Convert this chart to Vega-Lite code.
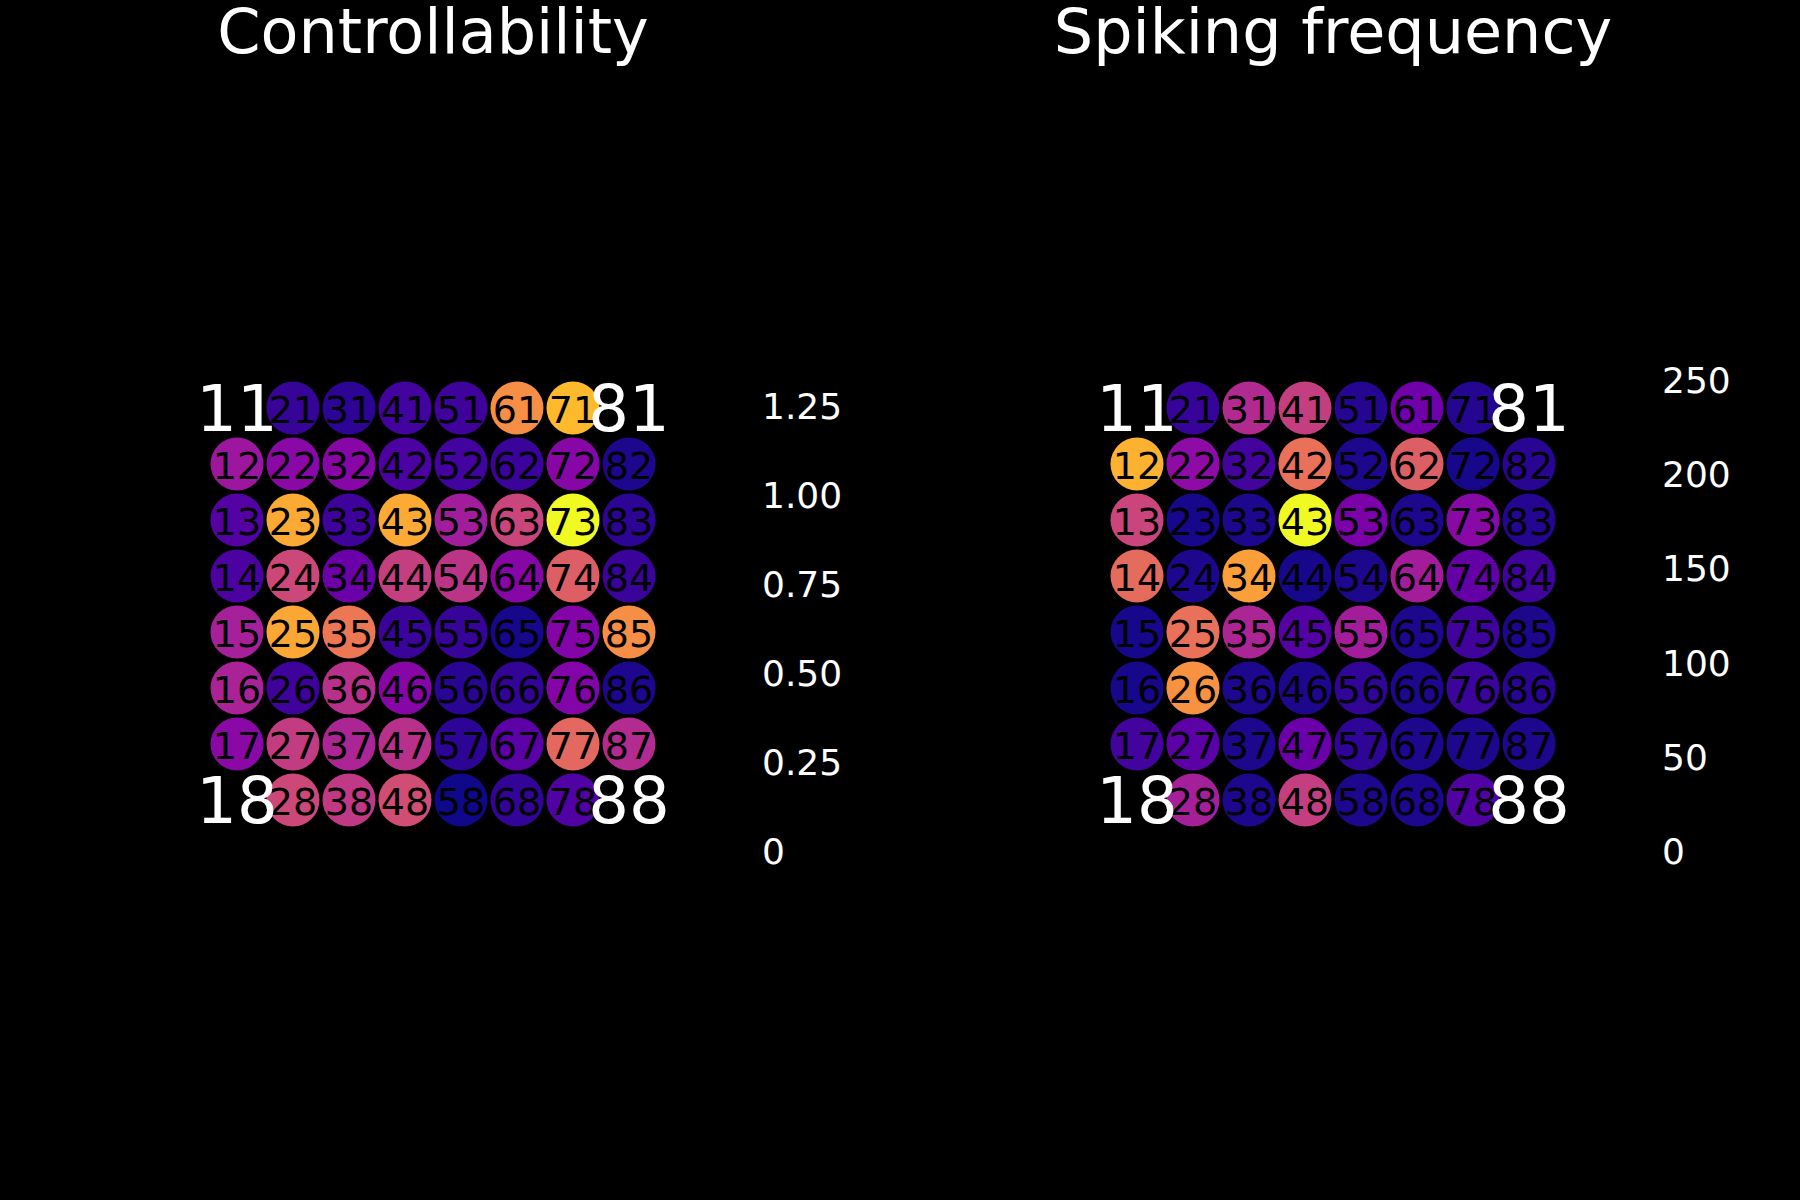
{
  "$schema": "https://vega.github.io/schema/vega-lite/v6.json",
  "background": "black",
  "autosize": {"type": "pad"},
  "padding": {"left": 196, "top": 3, "right": 70, "bottom": 328},
  "datasets": {
    "ctrl": [
      {"ch": "21", "col": 2, "row": 1, "v": 0.093},
      {"ch": "31", "col": 3, "row": 1, "v": 0.066},
      {"ch": "41", "col": 4, "row": 1, "v": 0.133},
      {"ch": "51", "col": 5, "row": 1, "v": 0.12},
      {"ch": "61", "col": 6, "row": 1, "v": 0.97},
      {"ch": "71", "col": 7, "row": 1, "v": 1.13},
      {"ch": "12", "col": 1, "row": 2, "v": 0.439},
      {"ch": "22", "col": 2, "row": 2, "v": 0.372},
      {"ch": "32", "col": 3, "row": 2, "v": 0.359},
      {"ch": "42", "col": 4, "row": 2, "v": 0.159},
      {"ch": "52", "col": 5, "row": 2, "v": 0.133},
      {"ch": "62", "col": 6, "row": 2, "v": 0.106},
      {"ch": "72", "col": 7, "row": 2, "v": 0.359},
      {"ch": "82", "col": 8, "row": 2, "v": 0.027},
      {"ch": "13", "col": 1, "row": 3, "v": 0.186},
      {"ch": "23", "col": 2, "row": 3, "v": 1.076},
      {"ch": "33", "col": 3, "row": 3, "v": 0.12},
      {"ch": "43", "col": 4, "row": 3, "v": 1.076},
      {"ch": "53", "col": 5, "row": 3, "v": 0.465},
      {"ch": "63", "col": 6, "row": 3, "v": 0.651},
      {"ch": "73", "col": 7, "row": 3, "v": 1.329},
      {"ch": "83", "col": 8, "row": 3, "v": 0.066},
      {"ch": "14", "col": 1, "row": 4, "v": 0.159},
      {"ch": "24", "col": 2, "row": 4, "v": 0.665},
      {"ch": "34", "col": 3, "row": 4, "v": 0.266},
      {"ch": "44", "col": 4, "row": 4, "v": 0.625},
      {"ch": "54", "col": 5, "row": 4, "v": 0.571},
      {"ch": "64", "col": 6, "row": 4, "v": 0.359},
      {"ch": "74", "col": 7, "row": 4, "v": 0.771},
      {"ch": "84", "col": 8, "row": 4, "v": 0.106},
      {"ch": "15", "col": 1, "row": 5, "v": 0.478},
      {"ch": "25", "col": 2, "row": 5, "v": 1.063},
      {"ch": "35", "col": 3, "row": 5, "v": 0.877},
      {"ch": "45", "col": 4, "row": 5, "v": 0.106},
      {"ch": "55", "col": 5, "row": 5, "v": 0.093},
      {"ch": "65", "col": 6, "row": 5, "v": 0.013},
      {"ch": "75", "col": 7, "row": 5, "v": 0.346},
      {"ch": "85", "col": 8, "row": 5, "v": 0.97},
      {"ch": "16", "col": 1, "row": 6, "v": 0.492},
      {"ch": "26", "col": 2, "row": 6, "v": 0.12},
      {"ch": "36", "col": 3, "row": 6, "v": 0.558},
      {"ch": "46", "col": 4, "row": 6, "v": 0.359},
      {"ch": "56", "col": 5, "row": 6, "v": 0.053},
      {"ch": "66", "col": 6, "row": 6, "v": 0.08},
      {"ch": "76", "col": 7, "row": 6, "v": 0.346},
      {"ch": "86", "col": 8, "row": 6, "v": 0.027},
      {"ch": "17", "col": 1, "row": 7, "v": 0.372},
      {"ch": "27", "col": 2, "row": 7, "v": 0.611},
      {"ch": "37", "col": 3, "row": 7, "v": 0.505},
      {"ch": "47", "col": 4, "row": 7, "v": 0.558},
      {"ch": "57", "col": 5, "row": 7, "v": 0.066},
      {"ch": "67", "col": 6, "row": 7, "v": 0.213},
      {"ch": "77", "col": 7, "row": 7, "v": 0.811},
      {"ch": "87", "col": 8, "row": 7, "v": 0.532},
      {"ch": "28", "col": 2, "row": 8, "v": 0.665},
      {"ch": "38", "col": 3, "row": 8, "v": 0.598},
      {"ch": "48", "col": 4, "row": 8, "v": 0.691},
      {"ch": "58", "col": 5, "row": 8, "v": 0.0},
      {"ch": "68", "col": 6, "row": 8, "v": 0.08},
      {"ch": "78", "col": 7, "row": 8, "v": 0.173}
    ],
    "spike": [
      {"ch": "21", "col": 2, "row": 1, "v": 18},
      {"ch": "31", "col": 3, "row": 1, "v": 100},
      {"ch": "41", "col": 4, "row": 1, "v": 118},
      {"ch": "51", "col": 5, "row": 1, "v": 8},
      {"ch": "61", "col": 6, "row": 1, "v": 53},
      {"ch": "71", "col": 7, "row": 1, "v": 8},
      {"ch": "12", "col": 1, "row": 2, "v": 208},
      {"ch": "22", "col": 2, "row": 2, "v": 73},
      {"ch": "32", "col": 3, "row": 2, "v": 25},
      {"ch": "42", "col": 4, "row": 2, "v": 161},
      {"ch": "52", "col": 5, "row": 2, "v": 5},
      {"ch": "62", "col": 6, "row": 2, "v": 146},
      {"ch": "72", "col": 7, "row": 2, "v": 3},
      {"ch": "82", "col": 8, "row": 2, "v": 10},
      {"ch": "13", "col": 1, "row": 3, "v": 123},
      {"ch": "23", "col": 2, "row": 3, "v": 3},
      {"ch": "33", "col": 3, "row": 3, "v": 5},
      {"ch": "43", "col": 4, "row": 3, "v": 251},
      {"ch": "53", "col": 5, "row": 3, "v": 60},
      {"ch": "63", "col": 6, "row": 3, "v": 5},
      {"ch": "73", "col": 7, "row": 3, "v": 70},
      {"ch": "83", "col": 8, "row": 3, "v": 8},
      {"ch": "14", "col": 1, "row": 4, "v": 156},
      {"ch": "24", "col": 2, "row": 4, "v": 5},
      {"ch": "34", "col": 3, "row": 4, "v": 196},
      {"ch": "44", "col": 4, "row": 4, "v": 3},
      {"ch": "54", "col": 5, "row": 4, "v": 5},
      {"ch": "64", "col": 6, "row": 4, "v": 88},
      {"ch": "74", "col": 7, "row": 4, "v": 45},
      {"ch": "84", "col": 8, "row": 4, "v": 23},
      {"ch": "15", "col": 1, "row": 5, "v": 3},
      {"ch": "25", "col": 2, "row": 5, "v": 161},
      {"ch": "35", "col": 3, "row": 5, "v": 95},
      {"ch": "45", "col": 4, "row": 5, "v": 35},
      {"ch": "55", "col": 5, "row": 5, "v": 88},
      {"ch": "65", "col": 6, "row": 5, "v": 5},
      {"ch": "75", "col": 7, "row": 5, "v": 23},
      {"ch": "85", "col": 8, "row": 5, "v": 5},
      {"ch": "16", "col": 1, "row": 6, "v": 3},
      {"ch": "26", "col": 2, "row": 6, "v": 186},
      {"ch": "36", "col": 3, "row": 6, "v": 5},
      {"ch": "46", "col": 4, "row": 6, "v": 5},
      {"ch": "56", "col": 5, "row": 6, "v": 15},
      {"ch": "66", "col": 6, "row": 6, "v": 5},
      {"ch": "76", "col": 7, "row": 6, "v": 20},
      {"ch": "86", "col": 8, "row": 6, "v": 10},
      {"ch": "17", "col": 1, "row": 7, "v": 25},
      {"ch": "27", "col": 2, "row": 7, "v": 40},
      {"ch": "37", "col": 3, "row": 7, "v": 5},
      {"ch": "47", "col": 4, "row": 7, "v": 50},
      {"ch": "57", "col": 5, "row": 7, "v": 13},
      {"ch": "67", "col": 6, "row": 7, "v": 5},
      {"ch": "77", "col": 7, "row": 7, "v": 5},
      {"ch": "87", "col": 8, "row": 7, "v": 5},
      {"ch": "28", "col": 2, "row": 8, "v": 90},
      {"ch": "38", "col": 3, "row": 8, "v": 5},
      {"ch": "48", "col": 4, "row": 8, "v": 118},
      {"ch": "58", "col": 5, "row": 8, "v": 5},
      {"ch": "68", "col": 6, "row": 8, "v": 5},
      {"ch": "78", "col": 7, "row": 8, "v": 33}
    ],
    "corners": [
      {"ch": "11", "col": 1, "row": 1},
      {"ch": "81", "col": 8, "row": 1},
      {"ch": "18", "col": 1, "row": 8},
      {"ch": "88", "col": 8, "row": 8}
    ]
  },
  "config": {
    "view": {"stroke": null},
    "font": "DejaVu Sans",
    "title": {
      "font": "DejaVu Sans",
      "fontSize": 62,
      "fontWeight": "normal",
      "color": "white",
      "baseline": "alphabetic",
      "offset": 314,
      "frame": "group",
      "anchor": "middle"
    },
    "legend": {
      "orient": "none",
      "legendX": 527,
      "legendY": 0,
      "direction": "vertical",
      "gradientLength": 475,
      "gradientThickness": 24,
      "gradientOpacity": 0,
      "gradientStrokeWidth": 0,
      "labelFont": "DejaVu Sans",
      "labelFontSize": 36,
      "labelColor": "white",
      "labelOffset": 12,
      "labelBaseline": "middle",
      "labelOverlap": false,
      "padding": 0
    }
  },
  "hconcat": [
    {
      "width": 448,
      "height": 448,
      "title": "Controllability",
      "layer": [
        {
          "data": {"name": "ctrl"},
          "mark": {"type": "circle", "size": 2810, "opacity": 1},
          "encoding": {
            "x": {"field": "col", "type": "quantitative", "scale": {"domain": [0.5, 8.5], "nice": false, "zero": false}, "axis": null},
            "y": {"field": "row", "type": "quantitative", "scale": {"domain": [0.5, 8.5], "nice": false, "zero": false, "reverse": true}, "axis": null},
            "color": {
              "field": "v", "type": "quantitative",
              "scale": {"scheme": "plasma", "domain": [-0.005, 1.329]},
              "legend": {
                "title": null,
                "values": [0, 0.25, 0.5, 0.75, 1, 1.25],
                "labelExpr": "datum.value == 0 ? '0' : format(datum.value, '.2f')"
              }
            }
          }
        },
        {
          "data": {"name": "ctrl"},
          "mark": {"type": "text", "fontSize": 38, "color": "black", "dy": 4},
          "encoding": {
            "x": {"field": "col", "type": "quantitative"},
            "y": {"field": "row", "type": "quantitative"},
            "text": {"field": "ch", "type": "nominal"}
          }
        },
        {
          "data": {"name": "corners"},
          "mark": {"type": "text", "fontSize": 64, "color": "white", "dy": 4},
          "encoding": {
            "x": {"field": "col", "type": "quantitative"},
            "y": {"field": "row", "type": "quantitative"},
            "text": {"field": "ch", "type": "nominal"}
          }
        }
      ]
    },
    {
      "width": 448,
      "height": 448,
      "title": "Spiking frequency",
      "layer": [
        {
          "data": {"name": "spike"},
          "mark": {"type": "circle", "size": 2810, "opacity": 1},
          "encoding": {
            "x": {"field": "col", "type": "quantitative", "scale": {"domain": [0.5, 8.5], "nice": false, "zero": false}, "axis": null},
            "y": {"field": "row", "type": "quantitative", "scale": {"domain": [0.5, 8.5], "nice": false, "zero": false, "reverse": true}, "axis": null},
            "color": {
              "field": "v", "type": "quantitative",
              "scale": {"scheme": "plasma", "domain": [-1, 251]},
              "legend": {
                "title": null,
                "values": [0, 50, 100, 150, 200, 250]
              }
            }
          }
        },
        {
          "data": {"name": "spike"},
          "mark": {"type": "text", "fontSize": 38, "color": "black", "dy": 4},
          "encoding": {
            "x": {"field": "col", "type": "quantitative"},
            "y": {"field": "row", "type": "quantitative"},
            "text": {"field": "ch", "type": "nominal"}
          }
        },
        {
          "data": {"name": "corners"},
          "mark": {"type": "text", "fontSize": 64, "color": "white", "dy": 4},
          "encoding": {
            "x": {"field": "col", "type": "quantitative"},
            "y": {"field": "row", "type": "quantitative"},
            "text": {"field": "ch", "type": "nominal"}
          }
        }
      ]
    }
  ],
  "spacing": 452,
  "bounds": "flush",
  "resolve": {"scale": {"color": "independent"}, "legend": {"color": "independent"}}
}
